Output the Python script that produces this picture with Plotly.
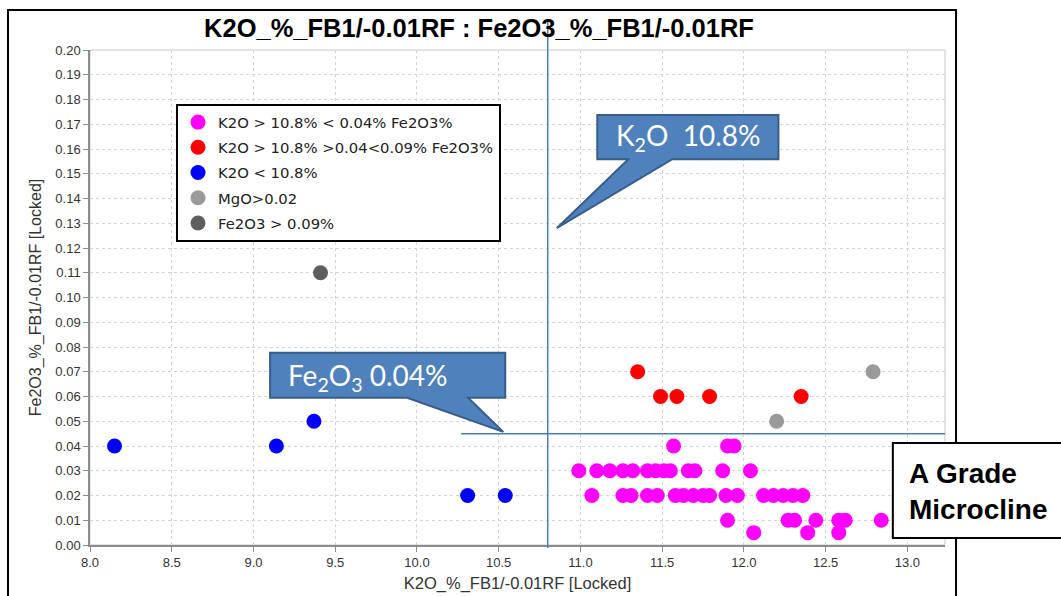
import plotly.graph_objects as go

# ---------------- data ----------------
magenta_x = [11.57, 11.90, 11.94,
             10.99, 11.10, 11.18, 11.26, 11.32, 11.41, 11.46, 11.51, 11.55, 11.66, 11.70, 11.87, 12.04,
             11.07, 11.26, 11.31, 11.41, 11.47, 11.58, 11.63, 11.69, 11.75, 11.79, 11.89, 11.96,
             12.12, 12.18, 12.24, 12.30, 12.36,
             11.90, 12.27, 12.31, 12.44, 12.58, 12.62, 12.84,
             12.06, 12.39, 12.58]
magenta_y = [0.04, 0.04, 0.04,
             0.03, 0.03, 0.03, 0.03, 0.03, 0.03, 0.03, 0.03, 0.03, 0.03, 0.03, 0.03, 0.03,
             0.02, 0.02, 0.02, 0.02, 0.02, 0.02, 0.02, 0.02, 0.02, 0.02, 0.02, 0.02,
             0.02, 0.02, 0.02, 0.02, 0.02,
             0.01, 0.01, 0.01, 0.01, 0.01, 0.01, 0.01,
             0.005, 0.005, 0.005]
red_x = [11.35, 11.49, 11.59, 11.79, 12.35]
red_y = [0.07, 0.06, 0.06, 0.06, 0.06]
blue_x = [8.15, 9.14, 9.37, 10.31, 10.54]
blue_y = [0.04, 0.04, 0.05, 0.02, 0.02]
grey_x = [12.20, 12.79]
grey_y = [0.05, 0.07]
dark_x = [9.41]
dark_y = [0.11]

series_names = ["K2O > 10.8% < 0.04% Fe2O3%",
                "K2O > 10.8% >0.04<0.09% Fe2O3%",
                "K2O < 10.8%",
                "MgO>0.02",
                "Fe2O3 > 0.09%"]

k2o_cut = 10.8
fe_cut = 0.045
x_ticks = [8.0, 8.5, 9.0, 9.5, 10.0, 10.5, 11.0, 11.5, 12.0, 12.5, 13.0]
y_ticks = [i / 100 for i in range(0, 21)]

# ---------------- figure ----------------
colors = ["#FF00FF", "#FF0000", "#0000FF", "#9A9A9A", "#5E5E5E"]
xs = [magenta_x, red_x, blue_x, grey_x, dark_x]
ys = [magenta_y, red_y, blue_y, grey_y, dark_y]

fig = go.Figure()
for i, (nm, c, x, y) in enumerate(zip(series_names, colors, xs, ys)):
    fig.add_trace(go.Scatter(x=x, y=y, mode="markers", name=nm, legendgroup=f"g{i}",
                             marker=dict(color=c, size=15, line=dict(width=0))))

axis_font = dict(family="Liberation Sans, Arial", size=13, color="#333333")
fig.update_xaxes(range=[8.0, 13.23], tickvals=x_ticks, ticktext=[f"{v:.1f}" for v in x_ticks],
                 showgrid=True, gridcolor="#d4d4d4", griddash="3px,3px", gridwidth=1,
                 showline=True, linecolor="#8c8c8c", linewidth=1.5,
                 ticks="outside", ticklen=5, tickcolor="#8c8c8c", tickfont=axis_font,
                 zeroline=False, automargin=False,
                 title=dict(text="K2O_%_FB1/-0.01RF [Locked]", standoff=8,
                            font=dict(family="Liberation Sans, Arial", size=16.5, color="#333333")))
fig.update_yaxes(range=[0, 0.2], tickvals=y_ticks, ticktext=[f"{v:.2f}" for v in y_ticks],
                 showgrid=True, gridcolor="#d4d4d4", griddash="3px,3px", gridwidth=1,
                 showline=True, linecolor="#8c8c8c", linewidth=1.5,
                 ticks="outside", ticklen=5, tickcolor="#8c8c8c", tickfont=axis_font,
                 zeroline=False, automargin=False,
                 title=dict(text="Fe2O3_%_FB1/-0.01RF [Locked]", standoff=10,
                            font=dict(family="Liberation Sans, Arial", size=16, color="#333333")))

shapes = []
# outer frame
shapes.append(dict(type="rect", xref="paper", yref="paper", x0=-0.0959, x1=1.0129, y0=-0.2, y1=1.0808,
                   line=dict(color="black", width=2), fillcolor="rgba(0,0,0,0)", layer="below"))
# light plot border
shapes.append(dict(type="rect", xref="paper", yref="paper", x0=0, x1=1, y0=0, y1=1,
                   line=dict(color="#c8c8c8", width=1), layer="below"))
# K2O threshold line
shapes.append(dict(type="line", xref="x", yref="paper", x0=k2o_cut, x1=k2o_cut, y0=-0.006, y1=1.061,
                   line=dict(color="#4a7ebb", width=1.5)))
# Fe2O3 threshold line
shapes.append(dict(type="line", xref="x", yref="y", x0=10.27, x1=13.23, y0=fe_cut, y1=fe_cut,
                   line=dict(color="#4a7ebb", width=1.5)))


def callout(x0, x1, yt, yb, bx1, bx2, tx, ty):
    p = (f"M {x0},{yt} L {x1},{yt} L {x1},{yb} L {bx2},{yb} L {tx},{ty} "
         f"L {bx1},{yb} L {x0},{yb} Z")
    return dict(type="path", xref="x", yref="y", path=p, fillcolor="#4F81BD",
                line=dict(color="#385D8A", width=2))


shapes.append(callout(11.103, 12.211, 0.1737, 0.1559, 11.293, 11.562, 10.855, 0.128))
shapes.append(callout(9.1016, 10.540, 0.0777, 0.0595, 9.940, 10.313, 10.528, 0.0457))
# A Grade box
shapes.append(dict(type="rect", xref="paper", yref="paper", x0=0.939, x1=1.16, y0=0.0141, y1=0.206,
                   line=dict(color="black", width=2), fillcolor="white"))

call_font = dict(family="Lato, Liberation Sans, Arial", size=28, color="white")
annotations = [
    dict(xref="x", yref="y", x=11.657, y=0.1648, text="K<sub>2</sub>O  10.8%", showarrow=False,
         xanchor="center", yanchor="middle", font=call_font),
    dict(xref="x", yref="y", x=9.1995, y=0.068, text="Fe<sub>2</sub>O<sub>3</sub> 0.04%", showarrow=False,
         xanchor="left", yanchor="middle", font=call_font),
    dict(xref="paper", yref="paper", x=0.9556, y=0.108, text="<b>A Grade<br>Microcline</b>",
         showarrow=False, xanchor="left", yanchor="middle", align="left",
         font=dict(family="Liberation Sans, Arial", size=28, color="black")),
]

fig.update_layout(
    width=1061, height=596, autosize=False,
    margin=dict(l=90, r=116, t=50, b=51),
    paper_bgcolor="white", plot_bgcolor="white",
    title=dict(text="<b>K2O_%_FB1/-0.01RF : Fe2O3_%_FB1/-0.01RF</b>", x=0.455, xref="paper",
               xanchor="center", y=1 - 28 / 596, yanchor="middle",
               font=dict(family="Liberation Sans, Arial", size=25.5, color="black")),
    legend=dict(x=0.1006, y=0.891, xanchor="left", yanchor="top", bgcolor="white",
                bordercolor="black", borderwidth=2, tracegroupgap=3,
                font=dict(family="DejaVu Sans", size=14.8, color="#222222")),
    shapes=shapes, annotations=annotations,
)

fig.write_html("out.html", config={"displayModeBar": False},
               post_script="document.body.style.margin='0';document.body.style.overflow='hidden';")
